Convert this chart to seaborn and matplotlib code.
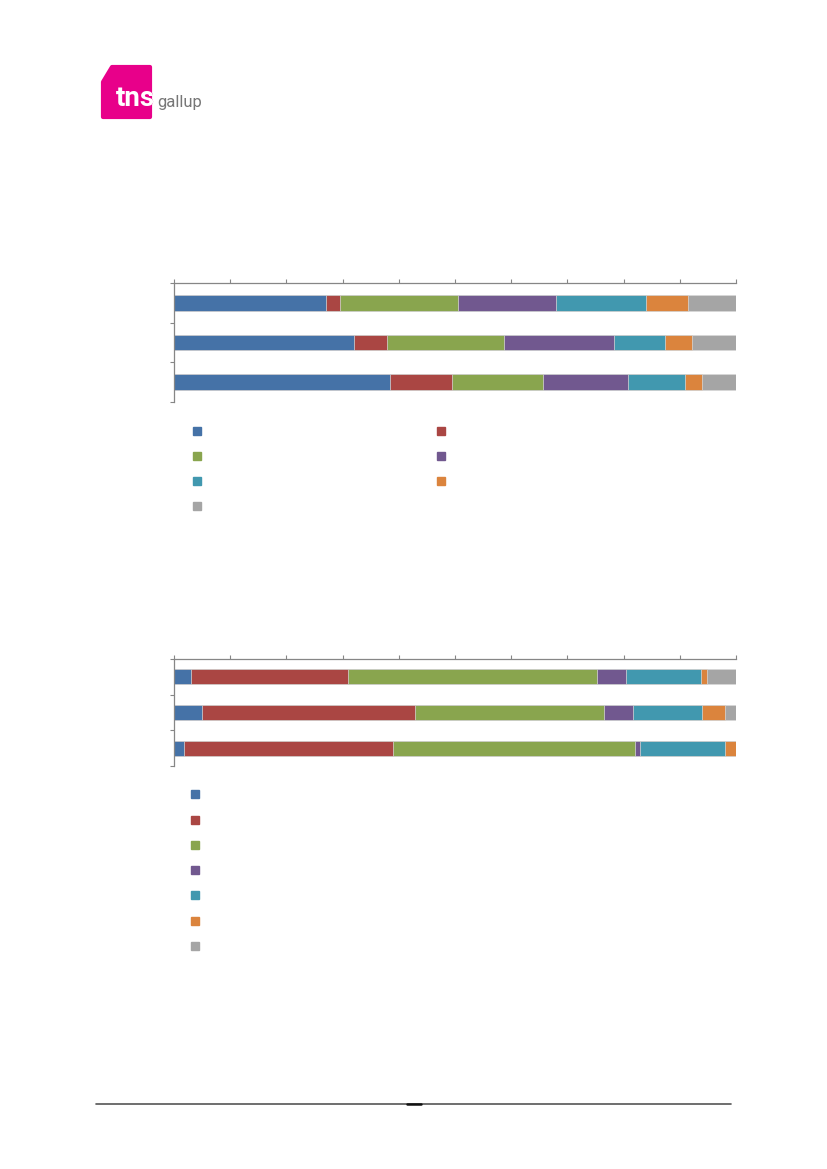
import numpy as np
import matplotlib
matplotlib.use("Agg")
import matplotlib.pyplot as plt
from matplotlib.patches import Polygon
from matplotlib.lines import Line2D
import seaborn as sns

# rows of the two charts (labels are not shown on the page)
rows1 = ["r1", "r2", "r3"]
rows2 = ["r1", "r2", "r3"]

# chart 1 shares (%)
blue1 = [27.0, 32.1, 38.4]
red1 = [2.5, 5.8, 11.1]
green1 = [21.1, 20.8, 16.2]
purple1 = [17.3, 19.6, 15.1]
teal1 = [16.1, 9.1, 10.1]
orange1 = [7.4, 4.7, 3.1]
gray1 = [8.6, 7.9, 6.0]

# chart 2 shares (%)
blue2 = [3.0, 5.0, 1.8]
red2 = [27.9, 37.8, 37.2]
green2 = [44.3, 33.7, 43.0]
purple2 = [5.2, 5.1, 1.0]
teal2 = [13.4, 12.3, 15.1]
orange2 = [1.1, 4.2, 1.9]
gray2 = [5.1, 1.9, 0.0]

xticks = [0, 10, 20, 30, 40, 50, 60, 70, 80, 90, 100]
palette = ["#4572A7", "#AA4643", "#89A54E", "#71588F", "#4198AF", "#DB843D", "#A5A5A5"]
spine_col = "#868686"

sns.set_style("white")
fig = plt.figure(figsize=(8.27, 11.69), dpi=100)

# page decoration axes in pixel coords
bg = fig.add_axes([0, 0, 1, 1])
bg.set_xlim(0, 827)
bg.set_ylim(1169, 0)
bg.axis("off")

pink = "#E8008A"
logo = Polygon([(112, 67), (150, 67), (150, 117), (103, 117), (103, 82)],
               closed=True, facecolor=pink, edgecolor=pink, lw=3, joinstyle="round")
bg.add_patch(logo)
bg.text(116, 105.5, "tns", color=pink, fontsize=20, fontweight="bold",
        family="Roboto", ha="left", va="baseline")
t = bg.text(116, 105.5, "tns", color="white", fontsize=20, fontweight="bold",
            family="Roboto", ha="left", va="baseline")
t.set_clip_path(logo)
bg.text(157.5, 106.5, "gallup", color="#777777", fontsize=12,
        family="Roboto", ha="left", va="baseline")

bg.plot([96, 731], [1104, 1104], color="#555555", lw=1.2)
bg.plot([407, 421], [1104, 1104], color="#111111", lw=1.8)


def stacked(rect, rows, series, bar_w):
    ax = fig.add_axes(rect)
    cum = np.cumsum(np.array(series), axis=0)
    # draw the longest first, shorter ones on top
    for i in range(len(series) - 1, -1, -1):
        sns.barplot(x=list(cum[i]), y=rows, color=palette[i], saturation=1,
                    width=bar_w, edgecolor="#d9d9d9", linewidth=0.5, ax=ax)
    ax.set_xlim(0, 100)
    ax.set_ylim(2.5, -0.5)
    ax.set_xticks(xticks)
    ax.set_yticks([-0.5, 0.5, 1.5, 2.5])
    ax.set_xlabel("")
    ax.set_ylabel("")
    sns.despine(ax=ax, top=False, right=True, bottom=True, left=False)
    ax.tick_params(axis="x", direction="out", length=3, width=0.8, color=spine_col,
                   labeltop=False, labelbottom=False, top=True, bottom=False)
    ax.tick_params(axis="y", direction="out", length=3, width=0.8, color=spine_col,
                   labelleft=False, labelright=False, left=True, right=False)
    for s in ("top", "left"):
        ax.spines[s].set_color(spine_col)
        ax.spines[s].set_linewidth(0.9)
    return ax


stacked([174 / 827, 1 - 402 / 1169, 562 / 827, 119 / 1169], rows1,
        [blue1, red1, green1, purple1, teal1, orange1, gray1], 0.40)
stacked([174 / 827, 1 - 766 / 1169, 562 / 827, 107 / 1169], rows2,
        [blue2, red2, green2, purple2, teal2, orange2, gray2], 0.42)


def handle(c):
    return Line2D([], [], marker="s", linestyle="", markersize=5.8,
                  markerfacecolor=c, markeredgecolor=c)


hs = [handle(c) for c in palette]
# legend 1 reads row by row in two columns
order = [0, 2, 4, 6, 1, 3, 5]
fig.legend([hs[i] for i in order], [""] * 7, ncol=2, loc="upper left",
           bbox_to_anchor=(192.7 / 827, 1 - 426.5 / 1169), frameon=False,
           fontsize=8, handlelength=0.72, handletextpad=0, columnspacing=21.3,
           labelspacing=1.37, borderpad=0, borderaxespad=0)
fig.legend(hs, [""] * 7, ncol=1, loc="upper left",
           bbox_to_anchor=(191 / 827, 1 - 790.3 / 1169), frameon=False,
           fontsize=8, handlelength=0.72, handletextpad=0,
           labelspacing=1.37, borderpad=0, borderaxespad=0)

fig.savefig("out.png", dpi=100)
